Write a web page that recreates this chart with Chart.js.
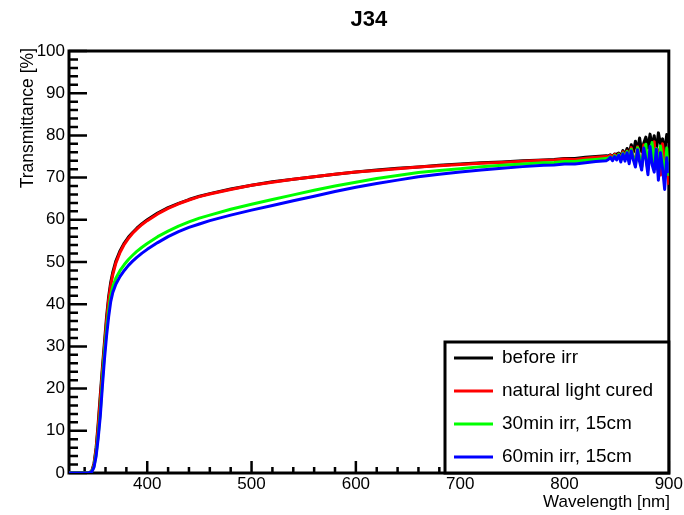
<!DOCTYPE html>
<html>
<head>
<meta charset="utf-8">
<script src="https://cdn.jsdelivr.net/npm/chart.js@4.4.1/dist/chart.umd.min.js"></script>
<style>
  html, body { margin: 0; padding: 0; background: #fff; }
  #wrap { width: 684px; height: 515px; }
</style>
</head>
<body>
<div id="wrap"><canvas id="chart" width="684" height="515"></canvas></div>
<script>
// wavelength [nm], shared by all four series
const wavelength = [
  325, 335, 343, 345, 347, 349, 351, 353, 355, 357,
  359, 361, 363, 365, 367, 370, 374, 378, 382, 386,
  390, 395, 400, 410, 420, 430, 440, 450, 460, 480,
  500, 520, 540, 560, 580, 600, 620, 640, 660, 680,
  700, 720, 740, 760, 780, 790, 800, 810, 820, 830,
  840, 842, 844, 846, 848, 850, 852, 854, 856, 858,
  860, 862, 864, 866, 868, 870, 872, 874, 876, 878,
  880, 882, 884, 886, 888, 890, 892, 894, 896, 898, 900
];

const beforeIrr = [
  0, 0, 0, 0.1, 0.6, 2.3, 6, 11.8, 18.5, 25,
  31, 37, 41.8, 45.2, 47.6, 50.3, 52.7, 54.5, 55.9, 57.0,
  58.0, 59.1, 60.0, 61.6, 62.9, 63.9, 64.8, 65.6, 66.2, 67.3,
  68.2, 69.0, 69.6, 70.2, 70.8, 71.3, 71.8, 72.2, 72.5, 72.9,
  73.2, 73.5, 73.7, 74.0, 74.2, 74.3, 74.5, 74.5, 74.8, 75.0,
  75.2, 75.1, 75.4, 74.9, 75.6, 75.5, 75.8, 75.1, 76.4, 75.4,
  76.9, 75.7, 77.8, 76.0, 78.6, 76.5, 79.4, 76.1, 78.2, 79.6,
  77.0, 80.3, 77.4, 79.9, 76.3, 80.6, 78.0, 79.2, 75.9, 80.2, 78.3
];

const naturalLight = [
  0, 0, 0, 0.1, 0.5, 2, 5.5, 11, 17.5, 24,
  30, 36, 41, 44.5, 47, 49.8, 52.3, 54.2, 55.6, 56.8,
  57.8, 58.9, 59.8, 61.4, 62.7, 63.8, 64.7, 65.5, 66.1, 67.2,
  68.2, 68.9, 69.6, 70.2, 70.8, 71.3, 71.7, 72.1, 72.5, 72.8,
  73.1, 73.4, 73.6, 73.9, 74.1, 74.2, 74.4, 74.3, 74.6, 74.8,
  75.0, 74.9, 75.3, 74.6, 75.5, 74.8, 75.6, 74.4, 76.1, 74.7,
  76.3, 74.1, 77.1, 75.0, 73.3, 77.3, 74.5, 72.6, 77.7, 75.0,
  71.8, 76.9, 73.4, 78.5, 72.1, 76.6, 70.6, 78.0, 73.5, 75.3, 68.3
];

const irr30 = [
  0, 0, 0, 0.1, 0.4, 1.6, 4.5, 9, 14.5, 22,
  28.5, 34, 38.5, 42, 44.2, 46.2, 48, 49.4, 50.6, 51.6,
  52.5, 53.5, 54.4, 56, 57.3, 58.5, 59.5, 60.4, 61.1, 62.5,
  63.7, 64.8, 65.9, 67.0, 68.0, 68.9, 69.8, 70.5, 71.2, 71.7,
  72.1, 72.6, 72.9, 73.2, 73.5, 73.6, 73.8, 73.8, 74.1, 74.3,
  74.5, 74.7, 74.9, 74.3, 75.2, 74.6, 75.5, 74.1, 75.8, 74.4,
  76.2, 73.8, 76.7, 74.8, 72.9, 77.1, 74.9, 72.4, 76.3, 77.9,
  72.0, 75.6, 78.3, 73.2, 76.9, 71.3, 77.5, 74.1, 69.6, 77.0, 70.4
];

const irr60 = [
  0, 0, 0, 0.1, 0.3, 1.4, 4, 8.3, 13.5, 20.5,
  27, 32.5, 37, 40.6, 42.8, 44.8, 46.6, 48, 49.2, 50.2,
  51.1, 52.1, 53, 54.6, 56, 57.2, 58.2, 59, 59.8, 61.1,
  62.3, 63.4, 64.5, 65.6, 66.7, 67.7, 68.6, 69.4, 70.2, 70.8,
  71.3, 71.8, 72.2, 72.6, 72.9, 73.0, 73.2, 73.2, 73.5, 73.8,
  74.0, 74.3, 74.8, 74.0, 75.0, 74.2, 75.3, 73.7, 75.6, 73.9,
  75.9, 73.3, 76.3, 74.2, 72.5, 76.6, 73.7, 71.8, 77.0, 74.4,
  70.7, 77.4, 73.0, 71.3, 76.7, 69.4, 75.9, 72.2, 67.2, 74.7, 71.1
];

const seriesNames = ["before irr", "natural light cured", "30min irr, 15cm", "60min irr, 15cm"];
const seriesColors = ["#000000", "#ff0000", "#00ff00", "#0000ff"];
const xTicks = [400, 500, 600, 700, 800, 900];
const yTicks = [0, 10, 20, 30, 40, 50, 60, 70, 80, 90, 100];

const FONT = "'Liberation Sans', Arial, Helvetica, sans-serif";

function toPoints(ys) {
  return wavelength.map((x, i) => ({ x: x, y: ys[i] }));
}

// ROOT style frame, inner ticks, titles and legend box
const rootFrame = {
  id: "rootFrame",
  beforeDatasetsDraw(chart) {
    const { ctx, chartArea: a, scales } = chart;
    const x = scales.x, y = scales.y;
    ctx.save();
    ctx.strokeStyle = "#000";
    ctx.lineWidth = 3;
    ctx.lineCap = "butt";
    ctx.strokeRect(a.left, a.top, a.right - a.left, a.bottom - a.top);
    ctx.lineWidth = 2.5;
    ctx.beginPath();
    for (let v = 0; v <= 100; v += 2) {
      const py = y.getPixelForValue(v);
      const len = v % 10 === 0 ? 18 : 9;
      ctx.moveTo(a.left, py);
      ctx.lineTo(a.left + len, py);
    }
    for (let v = 340; v <= 900; v += 20) {
      const px = x.getPixelForValue(v);
      const len = v % 100 === 0 ? 12 : 6;
      ctx.moveTo(px, a.bottom);
      ctx.lineTo(px, a.bottom - len);
    }
    ctx.stroke();
    ctx.restore();
  },
  afterDraw(chart) {
    const { ctx, chartArea: a } = chart;
    ctx.save();
    ctx.fillStyle = "#000";

    ctx.font = "bold 22px " + FONT;
    ctx.textAlign = "center";
    ctx.textBaseline = "alphabetic";
    ctx.fillText("J34", (a.left + a.right) / 2, 26);

    ctx.font = "17px " + FONT;
    ctx.textAlign = "right";
    ctx.fillText("Wavelength [nm]", 670, 507);

    ctx.save();
    ctx.translate(33, 48);
    ctx.rotate(-Math.PI / 2);
    ctx.font = "17.5px " + FONT;
    ctx.textAlign = "right";
    ctx.fillText("Transmittance [%]", 0, 0);
    ctx.restore();

    // legend
    const bx = 445, by = 342, bw = a.right - 445, bh = a.bottom - 342;
    ctx.fillStyle = "#fff";
    ctx.fillRect(bx, by, bw, bh);
    ctx.strokeStyle = "#000";
    ctx.lineWidth = 3;
    ctx.strokeRect(bx, by, bw, bh);
    ctx.font = "19px " + FONT;
    ctx.textAlign = "left";
    ctx.textBaseline = "middle";
    seriesNames.forEach((name, i) => {
      const ry = 358 + i * 33;
      ctx.strokeStyle = seriesColors[i];
      ctx.beginPath();
      ctx.moveTo(454, ry);
      ctx.lineTo(493, ry);
      ctx.stroke();
      ctx.fillStyle = "#000";
      ctx.fillText(name, 502, ry);
    });
    ctx.restore();
  }
};

const seriesData = [beforeIrr, naturalLight, irr30, irr60];

new Chart(document.getElementById("chart"), {
  type: "line",
  data: {
    datasets: seriesData.map((ys, i) => ({
      label: seriesNames[i],
      data: toPoints(ys),
      borderColor: seriesColors[i],
      backgroundColor: seriesColors[i],
      borderWidth: 3,
      pointRadius: 0,
      tension: 0,
      borderJoinStyle: "round",
      order: 4 - i
    }))
  },
  options: {
    responsive: false,
    devicePixelRatio: 1,
    animation: false,
    layout: { padding: { top: 51, right: 13, left: 0, bottom: 0 } },
    plugins: {
      legend: { display: false },
      title: { display: false },
      tooltip: { enabled: false }
    },
    scales: {
      x: {
        type: "linear",
        min: 325,
        max: 900,
        grid: { display: false, drawTicks: false },
        border: { display: false },
        afterFit: s => { s.height = 42; },
        afterBuildTicks: s => { s.ticks = xTicks.map(v => ({ value: v })); },
        ticks: {
          padding: 1,
          color: "#000",
          maxRotation: 0,
          autoSkip: false,
          font: { family: FONT, size: 17 }
        }
      },
      y: {
        type: "linear",
        min: 0,
        max: 100,
        grid: { display: false, drawTicks: false },
        border: { display: false },
        afterFit: s => { s.width = 69; },
        afterBuildTicks: s => { s.ticks = yTicks.map(v => ({ value: v })); },
        ticks: {
          padding: 4,
          color: "#000",
          autoSkip: false,
          font: { family: FONT, size: 17 }
        }
      }
    }
  },
  plugins: [rootFrame]
});
</script>
</body>
</html>
